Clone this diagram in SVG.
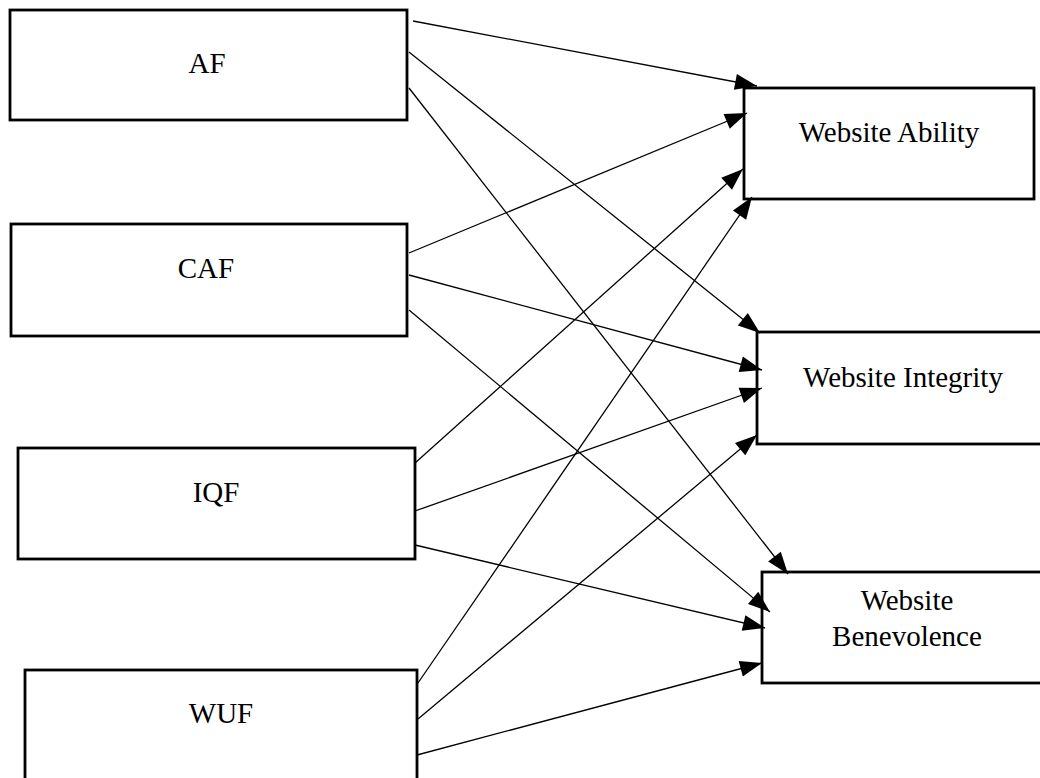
<svg xmlns="http://www.w3.org/2000/svg" width="1040" height="778" viewBox="0 0 1040 778">
<style>
.box{fill:#fff;stroke:#000;stroke-width:2.8}
.lbl{font-family:"Liberation Serif","Times New Roman",serif;font-size:29px;fill:#000;text-anchor:middle}
.c{stroke:#000;stroke-width:1.3;fill:none;marker-end:url(#ah)}
</style>
<defs>
<marker id="ah" markerUnits="userSpaceOnUse" markerWidth="23" markerHeight="17" refX="22" refY="8" orient="auto" overflow="visible">
<path d="M0,0 L22,8 L0,16 Z" fill="#000"/>
</marker>
</defs>
<rect width="1040" height="778" fill="#fff"/>
<g id="n-af"><rect class="box" x="10" y="10" width="397" height="110"/><text class="lbl" x="207" y="73">AF</text></g>
<g id="n-caf"><rect class="box" x="11" y="224" width="396" height="112"/><text class="lbl" x="206" y="278">CAF</text></g>
<g id="n-iqf"><rect class="box" x="18" y="448" width="397" height="111"/><text class="lbl" x="216" y="502">IQF</text></g>
<g id="n-wuf"><rect class="box" x="25" y="670" width="392" height="130"/><text class="lbl" x="221" y="723">WUF</text></g>
<g id="n-ability"><rect class="box" x="744" y="88" width="290" height="111"/><text class="lbl" x="889" y="142">Website Ability</text></g>
<g id="n-integrity"><rect class="box" x="757" y="332" width="300" height="112"/><text class="lbl" x="903" y="387">Website Integrity</text></g>
<g id="n-benevolence"><rect class="box" x="762" y="572" width="300" height="111"/><text class="lbl" x="907" y="610">Website</text><text class="lbl" x="907" y="646">Benevolence</text></g>
<g id="connectors">
<line class="c" x1="413" y1="21" x2="757" y2="86"/>
<line class="c" x1="409" y1="52" x2="760" y2="333"/>
<line class="c" x1="409" y1="88" x2="788" y2="574"/>
<line class="c" x1="409" y1="253" x2="747" y2="113"/>
<line class="c" x1="409" y1="275" x2="762" y2="370"/>
<line class="c" x1="409" y1="310" x2="770" y2="612"/>
<line class="c" x1="415" y1="463" x2="743" y2="169"/>
<line class="c" x1="415" y1="511" x2="762" y2="388"/>
<line class="c" x1="415" y1="545" x2="765" y2="628"/>
<line class="c" x1="418" y1="683" x2="752" y2="197"/>
<line class="c" x1="418" y1="719" x2="757" y2="435"/>
<line class="c" x1="417" y1="755" x2="762" y2="663"/>
</g>
</svg>
